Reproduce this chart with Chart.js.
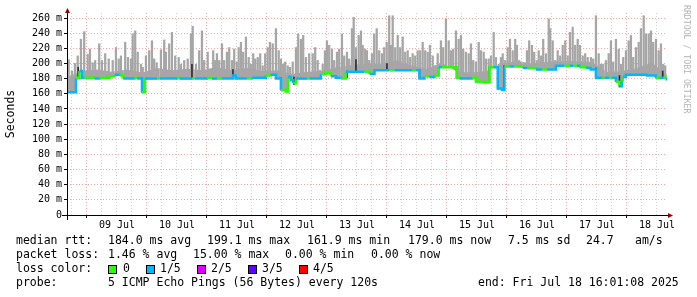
<!DOCTYPE html>
<html lang="en">
<head>
<meta charset="UTF-8">
<title>SmokePing median RTT</title>
<script src="https://cdn.jsdelivr.net/npm/chart.js"></script>
<style>
  body { margin: 0; background: #fff; }
  canvas { display: block; }
</style>
</head>
<body>
<canvas id="rttChart" width="697" height="297"></canvas>
<script>
// time axis: hours since 08 Jul 00:00
const startHour = 16.02;
const endHour = 256.02;
const dayLabels = ['09 Jul', '10 Jul', '11 Jul', '12 Jul', '13 Jul', '14 Jul', '15 Jul', '16 Jul', '17 Jul', '18 Jul'];

// median rtt (ms) steps, with loss index (0 = 0/5, 1 = 1/5 ...)
const medianHours = [16.0, 19.6, 21.0, 22.0, 23.0, 27.0, 29.0, 33.0, 35.0, 37.0, 38.5, 43.0, 44.0, 46.0, 47.2, 52.0, 53.0, 60.0, 61.0, 66.0,
  67.0, 72.0, 74.0, 76.0, 78.0, 82.4, 83.5, 88.0, 90.0, 95.6, 97.5, 99.6, 101.6, 103.5, 104.4, 105.5, 106.5, 107.6, 112.0, 113.0,
  117.6, 119.5, 121.6, 123.6, 125.5, 127.5, 135.0, 137.0, 139.0, 145.0, 147.0, 154.0, 155.5, 157.0, 159.0, 161.0, 163.0, 164.7, 166.0, 171.9,
  173.0, 178.0, 179.6, 183.0, 185.0, 186.5, 188.3, 190.0, 191.0, 193.0, 195.0, 198.3, 200.3, 203.6, 206.0, 208.0, 211.6, 215.0, 217.0, 218.5,
  220.0, 221.0, 223.6, 225.5, 227.6, 230.0, 231.0, 233.0, 234.0, 235.6, 237.0, 238.0, 238.3, 239.6, 248.0, 251.6, 253.0, 254.5, 255.5, 256.02];
const medianRtt = [162, 181, 190, 181, 181, 180, 181, 183, 185, 184, 180, 181, 180, 162, 180, 180, 180, 181, 180, 180,
  180, 181, 180, 180, 180, 184, 180, 180, 181, 184, 185, 180, 165, 163, 182, 178, 174, 180, 180, 180,
  186, 187, 183, 181, 180, 189, 189, 186, 191, 191, 191, 191, 191, 180, 183, 182, 184, 195, 195, 181,
  180, 181, 176, 175, 195, 195, 167, 165, 196, 196, 196, 194, 194, 192, 192, 192, 197, 197, 197, 197,
  197, 195, 194, 192, 181, 181, 181, 181, 181, 176, 170, 178, 182, 185, 184, 181, 181, 181, 179, 179];
const medianLoss = [1, 0, 1, 1, 0, 1, 0, 0, 1, 0, 1, 0, 1, 0, 1, 0, 1, 0, 1, 0,
  1, 0, 1, 0, 1, 1, 1, 0, 1, 0, 1, 1, 0, 0, 1, 1, 0, 1, 0, 1,
  0, 0, 1, 1, 0, 1, 0, 1, 1, 0, 1, 0, 1, 1, 0, 1, 0, 1, 0, 0,
  1, 0, 0, 0, 0, 1, 1, 1, 0, 1, 0, 1, 0, 1, 0, 1, 1, 0, 1, 0,
  1, 0, 1, 1, 1, 0, 1, 0, 1, 0, 1, 0, 1, 1, 1, 0, 1, 0, 1, 1];

// smoke: highest ping per sample (ms)
const smokeHours = [16.7, 18.0, 19.2, 20.3, 21.6, 22.9, 24.3, 25.2, 26.3, 27.3, 28.9, 30.0, 31.3, 32.7, 34.3, 35.6, 36.7, 37.6, 39.3, 40.4,
  41.6, 42.3, 43.3, 44.3, 45.6, 46.3, 47.6, 48.9, 50.0, 50.9, 51.9, 53.6, 54.9, 55.6, 56.9, 58.0, 59.3, 60.7, 61.6, 62.9,
  64.3, 65.6, 66.3, 67.6, 68.9, 70.0, 70.9, 72.3, 73.6, 74.5, 75.3,
  76.0, 76.9, 78.0, 78.9, 80.0, 80.9, 82.0, 82.9, 83.9, 84.7, 85.6, 86.5, 87.6, 88.7, 89.6, 90.5, 91.3, 92.3, 93.3, 94.3,
  95.3, 96.3, 97.2, 98.3, 99.6, 100.7, 101.6, 102.5, 103.3, 104.3, 105.2, 106.3, 107.6, 108.5, 109.6, 110.5, 111.6, 112.9, 114.3, 115.3,
  116.3, 117.2, 118.3, 119.2, 120.0, 120.9, 122.0, 122.9, 124.0, 124.9, 126.0, 126.9, 128.0, 128.9, 130.0, 130.7, 131.6, 132.7, 133.6, 134.3, 135.3,
  136.0, 136.9, 138.0, 138.9, 139.9, 140.9, 142.0, 142.9, 143.9, 144.9, 145.6, 146.3, 147.3, 148.3, 149.3, 150.3, 151.3, 152.3, 153.3, 154.3,
  155.3, 156.3, 157.3, 158.3, 159.3, 160.3, 161.2, 162.3, 163.3, 164.3, 165.6, 166.5, 167.6, 168.7, 169.6, 170.5, 171.6, 172.7, 173.6, 174.5,
  175.6, 176.7, 177.6, 178.5, 179.6, 180.7, 181.6, 182.7, 183.6, 184.7, 185.6, 186.7, 187.6, 188.7, 189.6, 190.3, 191.3, 192.3, 193.2, 194.3, 195.3,
  196.0, 196.9, 198.0, 198.9, 200.0, 200.9, 202.0, 202.9, 203.9, 204.7, 205.6, 206.5, 207.6, 208.7, 209.3, 210.3, 211.3, 212.3, 213.3, 214.3,
  215.3, 216.3, 217.2, 218.3, 219.3, 220.3, 221.2, 222.3, 223.3, 224.3, 225.6, 226.5, 227.6, 228.7, 229.6, 230.5, 231.6, 232.7, 233.6, 234.5,
  235.6, 236.7, 237.6, 238.5, 239.6, 240.7, 241.6, 242.5, 243.6, 244.7, 245.6, 246.7, 247.6, 248.7, 249.6, 250.5, 251.6, 252.7, 253.6, 254.5, 255.3];
const smokeMax = [205, 190, 200, 210, 232, 242, 212, 219, 201, 204, 226, 204, 213, 206, 204, 221, 206, 210, 228, 208,
  206, 239, 243, 215, 199, 195, 210, 217, 230, 206, 201, 218, 231, 215, 226, 241, 210, 208, 199, 204,
  206, 239, 249, 199, 217, 243, 204, 215, 193, 217, 204,
  213, 204, 226, 204, 215, 221, 204, 219, 202, 221, 228, 215, 235, 208, 199, 213, 206, 208, 213, 197,
  213, 221, 228, 226, 246, 217, 206, 199, 202, 197, 195, 202, 221, 239, 232, 237, 208, 213, 213, 221,
  204, 191, 199, 217, 230, 224, 219, 204, 215, 219, 239, 210, 215, 206, 246, 261, 221, 237, 243, 224, 219,
  217, 204, 213, 239, 246, 217, 213, 221, 228, 263, 224, 263, 221, 237, 221, 235, 215, 217, 208, 213,
  210, 217, 217, 228, 217, 215, 224, 210, 197, 213, 230, 221, 259, 230, 217, 219, 243, 232, 237, 219,
  215, 213, 226, 204, 202, 228, 217, 215, 206, 206, 210, 241, 208, 199, 208, 213, 204, 221, 232, 217, 232,
  224, 204, 199, 195, 217, 230, 224, 215, 204, 217, 210, 232, 213, 259, 246, 230, 204, 217, 210, 224,
  230, 210, 241, 248, 224, 232, 224, 210, 213, 208, 208, 206, 263, 213, 199, 199, 204, 213, 230, 202,
  232, 219, 199, 208, 217, 230, 237, 208, 221, 228, 246, 263, 239, 239, 243, 228, 232, 217, 226, 199, 197];

// smoke: dense body top (ms), every 6 h
const smokeBaseHours = [16, 22, 28, 34, 40, 46, 52, 58, 64, 70, 76, 82, 88, 94, 100, 106, 112, 118, 124, 130, 136,
  142, 148, 154, 160, 166, 172, 178, 184, 190, 196, 202, 208, 214, 220, 226, 232, 238, 244, 250, 256];
const smokeBase = [182, 190, 192, 189, 192, 188, 194, 191, 193, 191, 195, 191, 194, 190, 191, 186, 189, 190, 195, 198, 200,
  200, 204, 197, 193, 201, 189, 188, 190, 200, 203, 200, 202, 203, 203, 202, 189, 190, 194, 201, 185];

// dark smoke around the steps
const darkHours = [20.5, 46.0, 66.0, 82.4, 101.6, 106.8, 128.0, 131.6, 144.0, 157.0, 171.9, 185.0, 188.5, 190.8, 227.6, 237.0, 254.3];
const darkLow = [181, 162, 180, 180, 165, 172, 181, 189, 191, 180, 181, 175, 166, 166, 181, 169, 180];
const darkHigh = [195, 181, 199, 192, 181, 182, 190, 205, 200, 192, 195, 196, 196, 197, 194, 184, 190];

const lossColors = ['#26ff00', '#00b8ff', '#dd00ff', '#5e00ff', '#ff0000'];
const lossLabels = ['0', '1/5', '2/5', '3/5', '4/5'];

const rttStats = [[16, 'median rtt:'], [108, '184.0 ms avg'], [207, '199.1 ms max'], [307, '161.9 ms min'],
  [408, '179.0 ms now'], [508, '7.5 ms sd'], [586, '24.7'], [635, 'am/s']];
const lossStats = [[16, 'packet loss:'], [108, '1.46 % avg'], [193, '15.00 % max'], [285, '0.00 % min'], [371, '0.00 % now']];
const probeText = [[16, 'probe:'], [108, '5 ICMP Echo Pings (56 Bytes) every 120s'], [478, 'end: Fri Jul 18 16:01:08 2025']];

const MONO = '"DejaVu Sans Mono", monospace';
const majorGrid = 'rgba(230, 60, 60, 0.45)';
const minorGrid = 'rgba(150, 150, 150, 0.45)';
const smokeGrey = '#a6a6a6';

function medianAt(hour) {
  let value = medianRtt[0];
  for (let i = 0; i < medianHours.length; i++) {
    if (medianHours[i] <= hour) value = medianRtt[i];
  }
  return value;
}

// axis arrows, watermark and the text block under the graph
const decorations = {
  id: 'decorations',
  afterDraw(chart) {
    const ctx = chart.ctx;
    const a = chart.chartArea;
    ctx.save();

    ctx.strokeStyle = '#000';
    ctx.lineWidth = 1;
    ctx.beginPath();
    ctx.moveTo(a.left - 5, a.bottom + 0.5);
    ctx.lineTo(a.right + 2, a.bottom + 0.5);
    ctx.moveTo(a.left + 0.5, a.top - 2);
    ctx.lineTo(a.left + 0.5, a.bottom + 5);
    ctx.stroke();

    ctx.fillStyle = '#990000';
    ctx.beginPath();
    ctx.moveTo(a.left + 0.5, a.top - 5);
    ctx.lineTo(a.left - 2, a.top);
    ctx.lineTo(a.left + 3, a.top);
    ctx.closePath();
    ctx.fill();
    ctx.beginPath();
    ctx.moveTo(a.right + 6, a.bottom + 0.5);
    ctx.lineTo(a.right + 1, a.bottom - 2);
    ctx.lineTo(a.right + 1, a.bottom + 3);
    ctx.closePath();
    ctx.fill();

    // y title
    ctx.fillStyle = '#000';
    ctx.font = '11.5px ' + MONO;
    ctx.textAlign = 'center';
    ctx.textBaseline = 'middle';
    ctx.save();
    ctx.translate(11, 114);
    ctx.rotate(-Math.PI / 2);
    ctx.fillText('Seconds', 0, 0);
    ctx.restore();

    // watermark
    ctx.save();
    ctx.fillStyle = '#b4b4b4';
    ctx.font = '8.2px ' + MONO;
    ctx.textAlign = 'left';
    ctx.translate(686, 5);
    ctx.rotate(Math.PI / 2);
    ctx.fillText('RRDTOOL / TOBI OETIKER', 0, 0);
    ctx.restore();

    // text block
    ctx.textAlign = 'left';
    ctx.font = '11.5px ' + MONO;
    rttStats.forEach(([x, t]) => ctx.fillText(t, x, 241));
    lossStats.forEach(([x, t]) => ctx.fillText(t, x, 255));
    ctx.fillText('loss color:', 16, 269);
    const boxX = [108, 146, 197, 248, 299];
    const textX = [123, 160, 211, 262, 313];
    lossLabels.forEach((lab, i) => {
      ctx.fillStyle = lossColors[i];
      ctx.fillRect(boxX[i], 265, 8, 8);
      ctx.strokeStyle = '#000';
      ctx.strokeRect(boxX[i] + 0.5, 265.5, 8, 8);
      ctx.fillStyle = '#000';
      ctx.fillText(lab, textX[i], 269);
    });
    probeText.forEach(([x, t]) => ctx.fillText(t, x, 283));
    ctx.restore();
  }
};

Chart.defaults.font.family = MONO;
Chart.defaults.font.size = 10;
Chart.defaults.color = '#000';

new Chart(document.getElementById('rttChart'), {
  type: 'line',
  data: {
    datasets: [
      {
        // dense smoke body, filled down to the median line
        data: smokeBaseHours.map((h, i) => ({ x: h, y: smokeBase[i] })),
        borderWidth: 0,
        pointRadius: 0,
        backgroundColor: smokeGrey,
        fill: '+1',
        order: 3
      },
      {
        data: medianHours.map((h, i) => ({ x: h, y: medianRtt[i] })),
        stepped: true,
        borderWidth: 2.5,
        pointRadius: 0,
        fill: false,
        borderColor: lossColors[0],
        segment: { borderColor: c => lossColors[medianLoss[c.p0DataIndex]] },
        order: 0
      },
      {
        type: 'bar',
        data: smokeHours.map((h, i) => ({ x: h, y: [medianAt(h), smokeMax[i]] })),
        backgroundColor: smokeGrey,
        barThickness: 1.6,
        grouped: false,
        order: 2
      },
      {
        type: 'bar',
        data: darkHours.map((h, i) => ({ x: h, y: [darkLow[i], darkHigh[i]] })),
        backgroundColor: '#2e2e2e',
        barThickness: 1,
        grouped: false,
        order: 1
      }
    ]
  },
  options: {
    responsive: false,
    devicePixelRatio: 1,
    animation: false,
    layout: { padding: { left: 0, top: 13, right: 30, bottom: 0 } },
    plugins: { legend: { display: false }, tooltip: { enabled: false } },
    scales: {
      x: {
        type: 'linear',
        min: startHour,
        max: endHour,
        offset: false,
        afterBuildTicks: s => {
          const t = [];
          for (let h = 18; h <= 252; h += 6) t.push({ value: h });
          s.ticks = t;
        },
        afterFit: s => { s.height = 82; s.paddingLeft = 0; s.paddingRight = 0; },
        ticks: {
          autoSkip: false,
          maxRotation: 0,
          minRotation: 0,
          padding: 1,
          callback: v => (v % 24 === 12 ? dayLabels[(v - 36) / 24] : '')
        },
        grid: {
          offset: false,
          color: c => (c.tick && c.tick.value % 24 === 0 ? majorGrid : minorGrid),
          tickColor: c => (c.tick && c.tick.value % 24 === 0 ? '#000' : 'rgba(0,0,0,0)'),
          tickLength: 3
        },
        border: { display: false, dash: [1, 2] }
      },
      y: {
        type: 'linear',
        min: 0,
        max: 266.6,
        afterBuildTicks: s => {
          const t = [];
          for (let v = 0; v <= 260; v += 10) t.push({ value: v });
          s.ticks = t;
        },
        afterFit: s => { s.width = 67; s.paddingTop = 0; s.paddingBottom = 0; },
        ticks: {
          padding: 2,
          callback: v => (v % 20 === 0 ? (v === 0 ? '0' : v + ' m') : '')
        },
        grid: {
          color: c => (c.tick && c.tick.value % 20 === 0 ? majorGrid : minorGrid),
          tickColor: c => (c.tick && c.tick.value % 20 === 0 ? '#000' : 'rgba(0,0,0,0)'),
          tickLength: 3
        },
        border: { display: false, dash: [1, 2] }
      }
    }
  },
  plugins: [decorations]
});
</script>
</body>
</html>
